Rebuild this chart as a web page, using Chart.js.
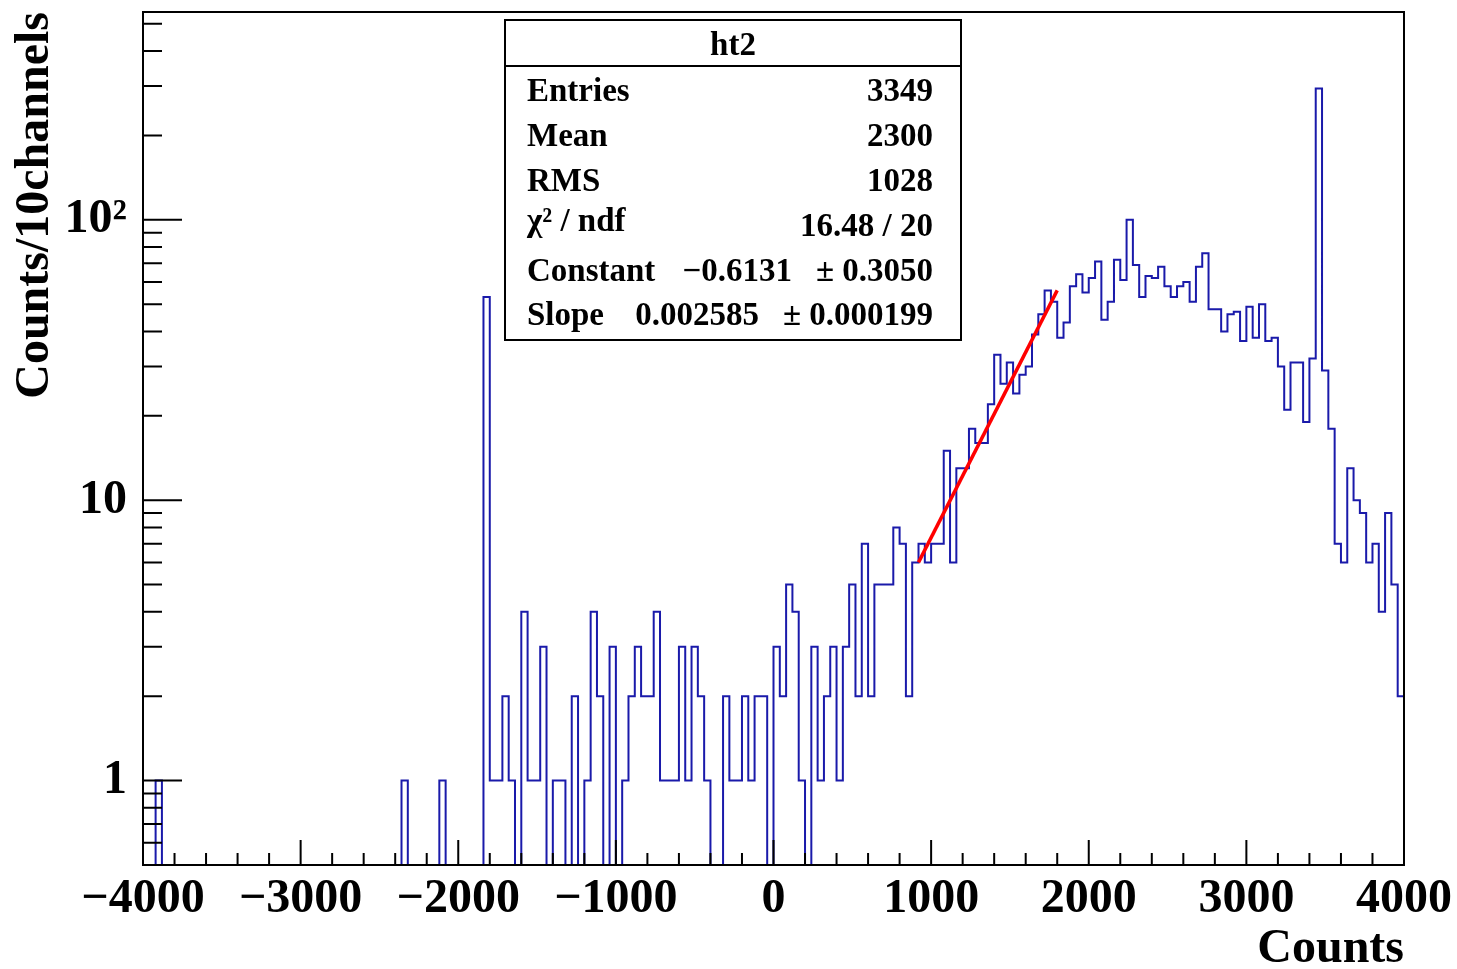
<!DOCTYPE html>
<html>
<head>
<meta charset="utf-8">
<title>ht2</title>
<script src="https://cdn.jsdelivr.net/npm/chart.js@4/dist/chart.umd.min.js"></script>
<style>
    html, body { margin: 0; padding: 0; background: #fff; }
</style>
</head>
<body>
<canvas id="ht2" width="1457" height="969"></canvas>
<script>
// histogram ht2: 200 bins of 40 counts between -4000 and 4000
const xLow = -4000;
const xHigh = 4000;
const binWidth = 40;

const counts = [
    0, 0, 1, 0, 0, 0, 0, 0, 0, 0,
    0, 0, 0, 0, 0, 0, 0, 0, 0, 0,
    0, 0, 0, 0, 0, 0, 0, 0, 0, 0,
    0, 0, 0, 0, 0, 0, 0, 0, 0, 0,
    0, 1, 0, 0, 0, 0, 0, 1, 0, 0,
    0, 0, 0, 0, 53, 1, 1, 2, 1, 0,
    4, 1, 1, 3, 0, 1, 1, 0, 2, 0,
    1, 4, 2, 0, 3, 0, 1, 2, 3, 2,
    2, 4, 1, 1, 1, 3, 1, 3, 2, 1,
    0, 0, 2, 1, 1, 2, 1, 2, 2, 0,
    3, 2, 5, 4, 1, 0, 3, 1, 2, 3,
    1, 3, 5, 2, 7, 2, 5, 5, 5, 8,
    7, 2, 6, 7, 6, 7, 7, 15, 6, 13,
    13, 18, 16, 16, 22, 33, 26, 31, 24, 28,
    30, 39, 46, 56, 51, 38, 43, 58, 64, 55,
    62, 71, 44, 51, 72, 61, 100, 69, 53, 63,
    62, 68, 58, 53, 58, 60, 51, 68, 76, 48,
    48, 40, 46, 47, 37, 49, 38, 50, 37, 38,
    30, 21, 31, 31, 19, 32, 294, 29, 18, 7,
    6, 13, 10, 9, 6, 7, 4, 9, 5, 2,
];

// expo fit, drawn over its range (straight on a log axis)
const fitX = [920, 1800];
const fitY = [6.0, 56];

const xTicks = [-4000, -3000, -2000, -1000, 0, 1000, 2000, 3000, 4000];
const yTicks = [1, 10, 100];
const yTickLabels = ['1', '10', '10²'];
const yMin = 0.5;
const yMax = 551;

const statNames = ['Entries', 'Mean', 'RMS', 'χ² / ndf', 'Constant', 'Slope'];
const statValues = ['3349', '2300', '1028', '16.48 / 20', '−0.6131', '0.002585'];
const statErrors = ['', '', '', '', '± 0.3050', '± 0.000199'];

const serif = '"Liberation Serif", "DejaVu Serif", serif';
const zeroFloor = 0.2; // empty bins drop below the frame

const histPoints = counts.map((c, i) => ({ x: xLow + i * binWidth, y: c > 0 ? c : zeroFloor }));
histPoints.push({ x: xLow + counts.length * binWidth, y: counts[counts.length - 1] });

const fitPoints = fitX.map((x, i) => ({ x: x, y: fitY[i] }));

// ROOT style: ticks inside the frame + frame on top
const rootAxes = {
    id: 'rootAxes',
    afterDatasetsDraw(chart) {
        const { ctx, chartArea: a, scales: { x, y } } = chart;
        ctx.save();
        ctx.strokeStyle = '#000';
        ctx.lineWidth = 2;
        ctx.beginPath();
        for (let v = xLow; v <= xHigh; v += 200) {
            const px = x.getPixelForValue(v);
            const len = v % 1000 === 0 ? 25 : 12;
            ctx.moveTo(px, a.bottom);
            ctx.lineTo(px, a.bottom - len);
        }
        [0.1, 1, 10, 100].forEach(d => {
            for (let k = 1; k <= 9; k++) {
                const v = d * k;
                if (v < yMin || v > yMax) continue;
                const py = y.getPixelForValue(v);
                const len = k === 1 ? 39 : 19;
                ctx.moveTo(a.left, py);
                ctx.lineTo(a.left + len, py);
            }
        });
        ctx.stroke();
        ctx.strokeRect(a.left, a.top, a.right - a.left, a.bottom - a.top);
        ctx.restore();
    },
};

const statsBox = {
    id: 'statsBox',
    afterDraw(chart) {
        const ctx = chart.ctx;
        const left = 505, top = 20, right = 961, bottom = 340;
        ctx.save();
        ctx.fillStyle = '#fff';
        ctx.fillRect(left, top, right - left, bottom - top);
        ctx.strokeStyle = '#000';
        ctx.lineWidth = 2;
        ctx.strokeRect(left, top, right - left, bottom - top);
        ctx.beginPath();
        ctx.moveTo(left, 66);
        ctx.lineTo(right, 66);
        ctx.stroke();

        ctx.fillStyle = '#000';
        ctx.font = 'bold 33px ' + serif;
        ctx.textBaseline = 'alphabetic';
        ctx.textAlign = 'center';
        ctx.fillText('ht2', (left + right) / 2, 55);

        const rows = [101, 146, 191, 236, 281, 325];
        statNames.forEach((name, i) => {
            ctx.textAlign = 'left';
            ctx.fillText(name, 527, rows[i] - (i === 3 ? 5 : 0));
            ctx.textAlign = 'right';
            if (statErrors[i]) {
                ctx.fillText(statErrors[i], 933, rows[i]);
                ctx.fillText(statValues[i], i === 4 ? 792 : 759, rows[i]);
            } else {
                ctx.fillText(statValues[i], 933, rows[i]);
            }
        });
        ctx.restore();
    },
};

new Chart(document.querySelector('#ht2'), {
    type: 'line',
    data: {
        datasets: [
            {
                label: 'fit',
                data: fitPoints,
                borderColor: '#ff0000',
                borderWidth: 3.5,
                pointRadius: 0,
                fill: false,
                clip: 0,
            },
            {
                label: 'ht2',
                data: histPoints,
                stepped: 'before',
                borderColor: '#1a1aaa',
                borderWidth: 2,
                pointRadius: 0,
                fill: false,
                clip: 0,
            },
        ],
    },
    options: {
        responsive: false,
        devicePixelRatio: 1,
        animation: false,
        layout: { padding: { top: 12, right: 53, left: 0, bottom: 0 } },
        plugins: {
            legend: { display: false },
            tooltip: { enabled: false },
        },
        scales: {
            x: {
                type: 'linear',
                position: 'bottom',
                min: xLow,
                max: xHigh,
                grid: { display: false, drawTicks: false },
                border: { display: false },
                afterBuildTicks: s => { s.ticks = xTicks.map(v => ({ value: v })); },
                afterFit: s => {
                    s.height = 104;
                    s.paddingLeft = 0;
                    s.paddingRight = 0;
                },
                ticks: {
                    autoSkip: false,
                    maxRotation: 0,
                    padding: 6,
                    color: '#000',
                    font: { family: serif, weight: 'bold', size: 48 },
                    callback: v => (v < 0 ? '−' + Math.abs(v) : String(v)),
                },
                title: {
                    display: true,
                    text: 'Counts',
                    align: 'end',
                    color: '#000',
                    padding: 0,
                    font: { family: serif, weight: 'bold', size: 48, lineHeight: 0.8 },
                },
            },
            y: {
                type: 'logarithmic',
                min: yMin,
                max: yMax,
                bounds: 'data',
                grid: { display: false, drawTicks: false },
                border: { display: false },
                afterBuildTicks: s => { s.ticks = yTicks.map(v => ({ value: v })); },
                afterFit: s => {
                    s.width = 143;
                    s.paddingTop = 0;
                    s.paddingBottom = 0;
                },
                ticks: {
                    padding: 16,
                    color: '#000',
                    font: { family: serif, weight: 'bold', size: 48 },
                    callback: v => yTickLabels[yTicks.indexOf(v)],
                },
                title: {
                    display: true,
                    text: 'Counts/10channels',
                    align: 'end',
                    color: '#000',
                    padding: { top: 7, bottom: 0 },
                    font: { family: serif, weight: 'bold', size: 48 },
                },
            },
        },
    },
    plugins: [rootAxes, statsBox],
});
</script>
</body>
</html>
